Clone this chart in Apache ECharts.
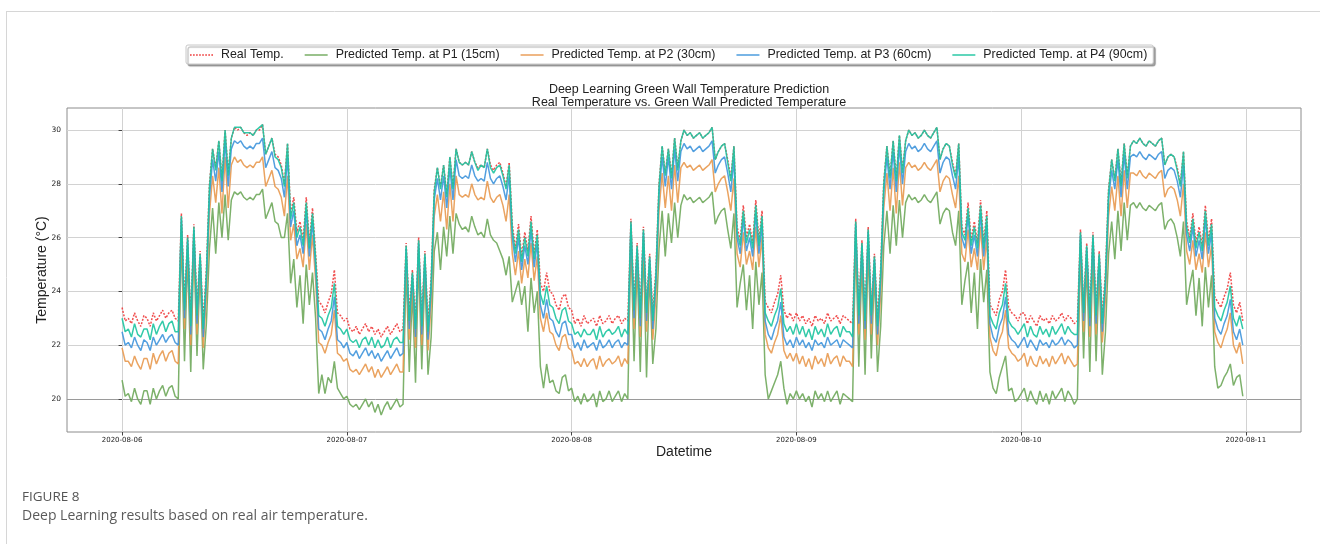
<!DOCTYPE html>
<html>
<head>
<meta charset="utf-8">
<script src="https://cdn.jsdelivr.net/npm/echarts@6.0.0/dist/echarts.min.js"></script>
<style>
html,body{margin:0;padding:0;background:#fff;}
#chart{width:1320px;height:544px;}
</style>
</head>
<body>
<div id="chart"></div>
<script>
// x tick labels (one per day, placed at 0h, 24h, ... 120h)
const tickLabels = ['2020-08-06','2020-08-07','2020-08-08','2020-08-09','2020-08-10','2020-08-11'];
const tickHours = [0, 24, 48, 72, 96, 120];
const yTicks = [20, 22, 24, 26, 28, 30];
const stepHours = 1 / 3; // one reading every 20 minutes from 2020-08-06 00:00
const seriesNames = ['Real Temp.', 'Predicted Temp. at P1 (15cm)', 'Predicted Temp. at P2 (30cm)', 'Predicted Temp. at P3 (60cm)', 'Predicted Temp. at P4 (90cm)'];

const realTemp = [
23.4,22.9,23.0,22.8,23.2,22.9,22.7,23.1,23.0,22.7,23.2,22.9,23.1,23.3,23.0,23.2,23.3,23.0,22.9, 26.9,23.6,26.1,23.0,26.5,23.4,25.5,22.9,24.8, 28.0,29.3,28.6,29.6,28.2,30.0,28.4,29.7,30.1, 30.0,30.1,29.9,29.8,29.9,29.8,30.0,30.0,30.2,29.1,29.4,29.7,29.1,29.0,28.7,28.0,29.5, 26.9,27.5,26.2,26.6,25.9,27.5,25.8,27.1,25.4, 23.6,23.5,23.2,23.6,23.9,24.8,23.2,23.1,22.9,
23.0,22.6,22.5,22.7,22.4,22.6,22.8,22.5,22.7,22.4,22.6,22.3,22.5,22.7,22.4,22.6,22.8,22.5,22.6, 25.8,23.2,24.8,22.9,26.0,23.0,25.5,22.8,24.5, 27.8,28.6,27.9,28.7,27.6,29.0,27.9,29.3,28.8, 28.7,28.8,28.7,29.2,28.8,28.6,28.7,28.6,29.3,28.7,28.5,28.7,28.8,28.4,27.9,28.8,26.5, 25.6,26.5,25.3,26.2,25.5,26.8,25.4,26.3,24.3, 24.0,24.7,24.0,23.9,23.5,23.3,23.8,23.9,23.4,
23.3,22.8,23.0,22.7,23.1,22.8,22.9,23.0,22.7,23.1,22.8,22.9,23.1,22.8,23.0,23.1,22.8,23.0,22.9, 26.7,23.6,25.8,23.3,26.4,23.5,25.4,23.2,24.8, 28.0,29.4,28.4,29.3,28.3,29.7,28.6,29.6,30.0, 29.8,29.9,29.7,29.8,29.9,29.7,29.8,29.9,30.1,28.9,29.2,29.4,29.5,28.9,28.2,29.4,26.4, 25.9,27.2,26.0,26.5,25.8,27.4,25.9,27.0,23.6, 23.4,23.2,23.6,23.9,24.6,23.3,23.0,23.2,22.9,
23.2,22.9,23.1,22.8,23.0,22.7,23.1,22.9,23.0,22.8,23.2,22.9,23.0,23.1,22.8,23.1,23.0,22.9,22.8, 26.7,23.4,25.9,23.2,26.4,23.4,25.4,23.0,24.9, 28.1,29.4,28.3,29.6,28.2,29.8,28.5,29.6,30.0, 29.8,29.9,29.7,29.8,30.0,29.8,29.7,29.9,30.1,28.9,29.3,29.5,29.4,28.8,28.3,29.5,26.4, 26.1,27.3,25.9,26.6,25.8,27.4,25.8,27.0,23.5, 23.3,23.1,23.7,24.0,24.8,23.4,23.2,23.1,22.9,
23.2,23.2,22.8,23.1,22.9,22.7,23.1,22.9,23.0,22.8,23.1,22.9,23.0,23.2,22.9,23.1,23.0,22.8,22.9, 26.3,23.5,25.8,23.3,26.2,23.4,25.5,23.1,24.7, 27.8,28.9,28.2,29.3,28.0,29.5,28.3,29.4,29.6, 29.5,29.7,29.5,29.4,29.6,29.5,29.4,29.6,29.7,28.7,29.0,29.1,29.0,28.6,28.0,29.2,26.6, 26.0,26.9,25.8,26.4,25.7,27.2,25.9,26.7,23.8, 23.6,23.4,23.8,24.1,24.7,23.5,23.2,23.6,22.9
];

const predP1 = [
20.7,20.1,20.2,19.9,20.4,20.0,19.8,20.3,20.3,19.8,20.4,20.0,20.3,20.5,20.1,20.4,20.5,20.1,20.0, 26.2,21.4,25.4,21.0,25.8,21.6,24.8,21.1,22.8, 25.6,27.1,25.4,27.3,26.0,27.6,25.9,27.4,27.7, 27.6,27.7,27.5,27.4,27.5,27.4,27.6,27.6,27.8,26.7,27.0,27.3,26.6,26.5,26.0,26.0,26.9, 24.3,25.2,23.4,24.6,22.8,25.0,23.5,24.7,23.0, 20.2,20.9,20.2,20.8,20.6,21.4,20.4,20.2,20.0,
20.1,19.8,19.7,19.8,19.6,19.8,20.0,19.7,19.9,19.5,19.8,19.4,19.7,19.9,19.6,19.8,20.0,19.7,19.8, 25.0,21.0,24.0,20.6,25.2,21.1,24.7,20.9,22.3, 25.5,26.2,24.8,26.4,25.3,26.8,25.4,26.9,26.5, 26.3,26.4,26.2,26.8,26.4,26.1,26.2,26.0,26.7,26.1,25.9,25.8,25.5,25.2,24.6,25.3,23.6, 24.0,24.4,23.5,24.2,22.5,24.5,23.2,24.0,21.2, 20.4,21.3,20.6,20.7,20.3,20.2,20.8,20.9,20.3,
20.4,19.9,20.1,19.8,20.2,19.9,20.0,20.2,19.7,20.3,19.9,20.0,20.3,19.9,20.1,20.3,19.9,20.2,20.0, 26.0,21.4,25.1,21.0,25.7,20.8,24.7,21.3,22.6, 25.6,27.0,25.3,26.9,25.8,27.3,26.0,27.2,27.6, 27.4,27.5,27.3,27.4,27.5,27.3,27.4,27.5,27.7,26.5,26.8,27.0,27.1,26.3,25.6,26.9,23.4, 24.3,25.0,23.3,24.6,22.6,25.1,23.5,24.7,20.9, 20.0,20.3,20.6,20.9,21.4,20.4,19.8,20.2,20.0,
20.3,20.0,20.2,19.9,20.1,19.7,20.3,20.0,20.2,19.9,20.3,19.9,20.1,20.3,19.8,20.2,20.1,20.0,19.9, 26.0,21.2,25.2,20.9,25.7,21.5,24.7,21.0,22.7, 25.7,27.0,25.4,27.2,25.7,27.4,26.0,27.3,27.6, 27.4,27.5,27.3,27.4,27.6,27.4,27.3,27.5,27.7,26.5,26.9,27.1,27.0,26.2,25.7,27.0,23.5, 24.4,25.1,23.2,24.7,22.6,25.2,23.6,24.8,21.0, 20.4,20.2,20.8,21.2,21.6,20.3,20.4,19.9,20.0,
20.2,20.4,19.9,20.3,20.0,19.8,20.3,19.9,20.2,19.8,20.3,20.0,20.2,20.4,19.9,20.3,20.1,19.8,20.0, 25.6,21.5,25.1,21.0,25.5,21.4,24.8,20.9,22.5, 25.4,26.6,25.2,27.0,25.5,27.3,25.9,27.2,27.3, 27.1,27.3,27.1,27.0,27.2,27.1,27.0,27.2,27.3,26.3,26.6,26.7,26.5,26.0,25.3,26.6,23.5, 24.2,24.8,23.1,24.5,22.7,24.9,23.4,24.6,21.2, 20.4,20.5,20.8,21.0,21.3,20.5,20.8,20.9,20.1
];

const predP2 = [
21.9,21.4,21.4,21.2,21.6,21.3,21.1,21.5,21.5,21.1,21.7,21.3,21.6,21.8,21.4,21.7,21.8,21.4,21.3, 26.5,22.6,25.7,22.0,26.1,22.4,25.1,21.9,23.8, 26.9,28.3,27.3,28.6,26.9,29.0,27.1,28.7,29.0, 28.8,28.9,28.7,28.6,28.7,28.6,28.8,28.8,29.0,27.9,28.2,28.5,27.9,27.8,27.5,26.8,28.3, 25.9,26.5,25.2,25.6,24.9,26.5,24.8,26.1,24.4, 22.1,22.0,21.7,22.1,22.4,23.3,21.7,21.6,21.4,
21.5,21.1,21.0,21.1,20.9,21.1,21.3,21.0,21.2,20.8,21.1,20.8,21.0,21.2,20.9,21.1,21.3,21.0,21.0, 25.4,22.2,24.4,21.9,25.6,22.0,25.1,21.8,23.5, 26.8,27.6,26.6,27.7,26.3,28.0,26.6,28.3,27.6, 27.5,27.6,27.5,28.0,27.6,27.4,27.5,27.4,28.1,27.5,27.3,27.5,27.6,27.2,26.6,27.6,25.4, 24.6,25.5,24.3,25.2,24.5,25.8,24.4,25.3,23.0, 22.5,23.2,22.5,22.4,22.0,21.8,22.3,22.4,21.9,
21.8,21.3,21.4,21.2,21.5,21.2,21.4,21.5,21.1,21.6,21.2,21.4,21.5,21.3,21.4,21.6,21.2,21.5,21.3, 26.3,22.6,25.4,22.3,26.0,22.5,25.0,22.2,23.8, 27.0,28.4,27.1,28.3,27.0,28.7,27.3,28.6,28.8, 28.6,28.7,28.5,28.6,28.7,28.5,28.6,28.7,28.9,27.7,28.0,28.2,28.3,27.7,27.0,28.2,25.4, 24.9,26.2,25.0,25.5,24.8,26.4,24.9,26.0,22.4, 21.9,21.7,22.1,22.4,23.1,21.8,21.5,21.7,21.4,
21.7,21.3,21.6,21.2,21.5,21.1,21.6,21.3,21.5,21.2,21.7,21.3,21.5,21.6,21.2,21.6,21.4,21.4,21.2, 26.3,22.4,25.5,22.2,26.0,22.4,25.0,22.0,23.9, 27.1,28.4,27.0,28.6,26.9,28.8,27.2,28.6,28.8, 28.6,28.7,28.5,28.6,28.8,28.6,28.5,28.7,28.9,27.7,28.1,28.3,28.2,27.6,27.1,28.3,25.4, 25.1,26.3,24.9,25.6,24.8,26.4,24.8,26.0,22.3, 21.8,21.6,22.2,22.5,23.3,21.9,21.7,21.6,21.4,
21.5,21.7,21.2,21.6,21.3,21.2,21.6,21.3,21.5,21.2,21.6,21.3,21.5,21.7,21.3,21.6,21.4,21.2,21.3, 25.9,22.5,25.4,22.3,25.8,22.4,25.1,22.1,23.7, 26.8,27.9,27.0,28.3,26.8,28.5,27.1,28.4,28.4, 28.3,28.5,28.3,28.2,28.4,28.3,28.2,28.4,28.5,27.5,27.8,27.9,27.8,27.4,26.8,28.0,25.5, 25.0,25.9,24.8,25.4,24.7,26.2,24.9,25.7,22.5, 22.1,21.9,22.3,22.6,23.2,22.0,21.7,22.1,21.3
];

const predP3 = [
22.5,22.0,22.1,21.9,22.3,22.0,21.8,22.2,22.1,21.8,22.3,22.0,22.2,22.4,22.1,22.3,22.4,22.1,22.0, 26.7,23.0,25.9,22.4,26.3,22.8,25.3,22.3,24.3, 27.5,28.9,28.1,29.2,27.7,29.6,27.9,29.3,29.6, 29.5,29.6,29.4,29.3,29.4,29.3,29.5,29.5,29.7,28.6,28.9,29.2,28.6,28.5,28.2,27.5,29.0, 26.4,27.0,25.7,26.1,25.4,27.0,25.3,26.6,24.9, 22.6,22.5,22.2,22.6,22.9,23.8,22.2,22.1,21.9,
22.1,21.7,21.6,21.8,21.5,21.7,21.9,21.6,21.8,21.5,21.7,21.4,21.6,21.8,21.5,21.7,21.9,21.6,21.7, 25.6,22.6,24.6,22.3,25.8,22.4,25.3,22.2,24.0, 27.4,28.2,27.4,28.3,27.1,28.6,27.4,28.9,28.3, 28.2,28.3,28.2,28.7,28.3,28.1,28.2,28.1,28.8,28.2,28.0,28.2,28.3,27.9,27.4,28.3,26.0, 25.1,26.0,24.8,25.7,25.0,26.3,24.9,25.8,23.5, 23.0,23.7,23.0,22.9,22.5,22.3,22.8,22.9,22.4,
22.4,21.9,22.1,21.8,22.2,21.9,22.0,22.1,21.8,22.2,21.9,22.0,22.2,21.9,22.1,22.2,21.9,22.1,22.0, 26.5,23.0,25.6,22.7,26.2,22.9,25.2,22.6,24.3, 27.6,29.0,27.9,29.0,27.8,29.3,28.1,29.2,29.5, 29.3,29.4,29.2,29.3,29.4,29.2,29.3,29.4,29.6,28.4,28.7,28.9,29.0,28.4,27.7,28.9,26.0, 25.4,26.7,25.5,26.0,25.3,26.9,25.4,26.5,22.9, 22.4,22.2,22.6,22.9,23.6,22.3,22.0,22.2,21.9,
22.3,22.0,22.2,21.9,22.1,21.8,22.2,22.0,22.1,21.9,22.3,22.0,22.1,22.2,21.9,22.2,22.1,22.0,21.9, 26.5,22.8,25.7,22.6,26.2,22.8,25.2,22.4,24.4, 27.7,29.0,27.8,29.2,27.7,29.4,28.0,29.2,29.5, 29.3,29.4,29.2,29.3,29.5,29.3,29.2,29.4,29.6,28.4,28.8,29.0,28.9,28.3,27.8,29.0,26.0, 25.6,26.8,25.4,26.1,25.3,26.9,25.3,26.5,22.8, 22.3,22.1,22.7,23.0,23.8,22.4,22.2,22.1,21.9,
22.1,22.3,21.9,22.2,22.0,21.8,22.2,22.0,22.1,21.9,22.2,22.0,22.1,22.3,22.0,22.2,22.1,21.9,22.0, 26.1,22.9,25.6,22.7,26.0,22.8,25.3,22.5,24.2, 27.4,28.5,27.8,28.9,27.5,29.1,27.8,29.0,29.1, 29.0,29.2,29.0,28.9,29.1,29.0,28.9,29.1,29.2,28.2,28.5,28.6,28.5,28.1,27.5,28.7,26.1, 25.5,26.4,25.3,25.9,25.2,26.7,25.4,26.2,23.0, 22.6,22.4,22.8,23.1,23.7,22.5,22.2,22.6,22.0
];

const predP4 = [
23.0,22.5,22.6,22.3,22.8,22.4,22.3,22.6,22.6,22.2,22.8,22.4,22.7,22.9,22.5,22.8,22.9,22.5,22.5, 26.8,23.3,26.0,22.7,26.4,23.1,25.4,22.6,24.6, 27.9,29.3,28.5,29.6,28.1,30.0,28.3,29.7,30.1, 30.1,30.1,29.9,29.9,29.9,29.8,30.0,30.1,30.2,29.1,29.4,29.7,29.0,28.9,28.6,27.9,29.5, 26.7,27.3,26.0,26.4,25.7,27.3,25.6,26.9,25.2, 23.1,23.0,22.7,23.1,23.4,24.3,22.7,22.6,22.4,
22.6,22.2,22.1,22.2,21.9,22.2,22.3,22.0,22.3,21.9,22.2,21.9,22.0,22.3,21.9,22.2,22.3,22.1,22.1, 25.7,22.9,24.7,22.6,25.9,22.7,25.4,22.5,24.3, 27.7,28.6,27.8,28.7,27.5,29.0,27.8,29.3,28.8, 28.7,28.8,28.7,29.2,28.8,28.5,28.7,28.6,29.3,28.6,28.4,28.6,28.7,28.3,27.8,28.7,26.3, 25.4,26.3,25.1,26.0,25.3,26.6,25.2,26.1,23.9, 23.5,24.2,23.5,23.4,23.0,22.8,23.3,23.4,22.9,
22.8,22.4,22.5,22.3,22.6,22.4,22.4,22.6,22.2,22.7,22.3,22.5,22.6,22.4,22.5,22.7,22.3,22.6,22.4, 26.6,23.3,25.7,23.0,26.3,23.2,25.3,22.9,24.6, 27.9,29.4,28.3,29.3,28.2,29.7,28.5,29.6,30.0, 29.8,29.9,29.7,29.8,29.9,29.7,29.8,29.9,30.1,28.9,29.2,29.4,29.5,28.8,28.1,29.4,26.2, 25.7,27.0,25.8,26.3,25.6,27.2,25.7,26.8,23.2, 22.9,22.7,23.1,23.4,24.1,22.8,22.5,22.7,22.4,
22.8,22.4,22.7,22.3,22.6,22.2,22.7,22.4,22.6,22.3,22.8,22.4,22.6,22.7,22.3,22.7,22.5,22.5,22.3, 26.6,23.1,25.8,22.9,26.3,23.1,25.3,22.7,24.7, 28.0,29.4,28.2,29.6,28.1,29.8,28.4,29.6,30.0, 29.8,29.9,29.7,29.8,30.0,29.8,29.7,29.9,30.1,28.9,29.3,29.5,29.4,28.7,28.2,29.5,26.2, 25.9,27.1,25.7,26.4,25.6,27.2,25.6,26.8,23.1, 22.8,22.6,23.2,23.5,24.3,22.9,22.7,22.6,22.4,
22.6,22.8,22.3,22.7,22.4,22.3,22.7,22.4,22.6,22.3,22.7,22.4,22.6,22.8,22.4,22.7,22.5,22.4,22.4, 26.2,23.2,25.7,23.0,26.1,23.1,25.4,22.8,24.5, 27.7,28.9,28.1,29.3,27.9,29.5,28.2,29.4,29.6, 29.5,29.7,29.5,29.4,29.6,29.5,29.4,29.6,29.7,28.7,29.0,29.1,29.0,28.5,27.9,29.2,26.4, 25.8,26.7,25.6,26.2,25.5,27.0,25.7,26.5,23.4, 23.1,22.9,23.3,23.6,24.2,23.0,22.7,23.1,22.6
];

const seriesValues = [realTemp, predP1, predP2, predP3, predP4];
const seriesColors = ['#ee3b3b', '#6fa85b', '#e8994f', '#3f95db', '#1cc4a0'];

function toPoints(arr) {
  return arr.map((v, i) => [i * stepHours, v]);
}

// legend icons: thin solid bar, or a dotted bar for the real temperature
const solidIcon = 'path://M0,0H23V1.4H0Z';
let dotted = '';
for (let x = 0; x < 23; x += 3) { dotted += 'M' + x + ',0h1.6v1.4h-1.6Z'; }
const dottedIcon = 'path://' + dotted;

const chart = echarts.init(document.getElementById('chart'), null, { renderer: 'canvas' });

const series = seriesNames.map((name, k) => ({
  name: name,
  type: 'line',
  data: toPoints(seriesValues[k]),
  symbol: 'none',
  showSymbol: false,
  smooth: false,
  z: 2 + k,
  lineStyle: {
    color: seriesColors[k],
    width: 1.5,
    type: k === 0 ? [2, 1.5] : 'solid',
    opacity: 0.9
  },
  itemStyle: { color: seriesColors[k] },
  emphasis: { disabled: true }
}));

const option = {
  animation: false,
  backgroundColor: '#ffffff',
  title: {
    text: 'Deep Learning Green Wall Temperature Prediction\nReal Temperature vs. Green Wall Predicted Temperature',
    left: 684,
    top: 78,
    textAlign: 'center',
    textStyle: {
      fontFamily: '"Liberation Sans", Arial, sans-serif',
      fontSize: 12.5,
      fontWeight: 'normal',
      color: '#222',
      lineHeight: 13
    }
  },
  legend: {
    data: seriesNames.map((n, k) => ({ name: n, icon: k === 0 ? dottedIcon : solidIcon })),
    left: 186,
    top: 45,
    orient: 'horizontal',
    itemWidth: 23,
    itemHeight: 10,
    itemGap: 21,
    padding: [4, 6, 3, 4],
    borderColor: '#c8c8c8',
    borderWidth: 1,
    borderRadius: 2,
    backgroundColor: '#ffffff',
    shadowColor: 'rgba(0,0,0,0.35)',
    shadowBlur: 1,
    shadowOffsetX: 2,
    shadowOffsetY: 2,
    textStyle: {
      fontFamily: '"Liberation Sans", Arial, sans-serif',
      fontSize: 12.4,
      color: '#222',
      padding: [0, 0, 0, 3]
    }
  },
  grid: {
    left: 67,
    right: 19,
    top: 108,
    bottom: 112,
    show: true,
    borderColor: '#8c8c8c',
    borderWidth: 1,
    backgroundColor: 'transparent'
  },
  xAxis: {
    type: 'value',
    min: -5.88,
    max: 125.88,
    name: 'Datetime',
    nameLocation: 'middle',
    nameGap: 13,
    nameMoveOverlap: false,
    nameTextStyle: {
      fontFamily: '"Liberation Sans", Arial, sans-serif',
      fontSize: 14,
      color: '#222',
      verticalAlign: 'top'
    },
    axisLine: { show: false },
    axisTick: {
      show: true,
      length: 3.5,
      inside: false,
      customValues: tickHours,
      lineStyle: { color: '#444', width: 1 }
    },
    axisLabel: {
      show: true,
      customValues: tickHours,
      margin: 5,
      fontFamily: '"DejaVu Sans", sans-serif',
      fontSize: 7,
      color: '#222',
      formatter: function (v) {
        const idx = tickHours.indexOf(Math.round(v));
        return idx >= 0 ? tickLabels[idx] : '';
      }
    },
    splitLine: {
      show: true,
      lineStyle: { color: '#d2d2d2', width: 1 }
    }
  },
  yAxis: {
    type: 'value',
    min: 18.77,
    max: 30.82,
    name: 'Temperature (°C)',
    nameLocation: 'middle',
    nameGap: 18,
    nameRotate: 90,
    nameMoveOverlap: false,
    nameTextStyle: {
      fontFamily: '"Liberation Sans", Arial, sans-serif',
      fontSize: 14,
      color: '#222'
    },
    axisLine: { show: false },
    axisTick: {
      show: true,
      length: 3.5,
      inside: false,
      customValues: yTicks,
      lineStyle: { color: '#444', width: 1 }
    },
    axisLabel: {
      show: true,
      customValues: yTicks,
      margin: 6,
      fontFamily: '"DejaVu Sans", sans-serif',
      fontSize: 7.5,
      color: '#222',
      formatter: function (v) { return String(Math.round(v)); }
    },
    splitLine: {
      show: true,
      lineStyle: { color: ['#9a9a9a', '#d2d2d2', '#d2d2d2', '#d2d2d2', '#d2d2d2', '#d2d2d2'], width: 1 }
    }
  },
  graphic: [
    { type: 'line', silent: true, shape: { x1: 6, y1: 11.5, x2: 1320, y2: 11.5 }, style: { stroke: '#d6d6d6', lineWidth: 1 } },
    { type: 'line', silent: true, shape: { x1: 6.5, y1: 11, x2: 6.5, y2: 544 }, style: { stroke: '#d6d6d6', lineWidth: 1 } },
    { type: 'text', silent: true, left: 22, top: 490, style: { text: 'FIGURE 8', font: '500 13.5px "Open Sans", "Noto Sans", sans-serif', fill: '#555' } },
    { type: 'text', silent: true, left: 22, top: 509, style: { text: 'Deep Learning results based on real air temperature.', font: '14px "Open Sans", "Noto Sans", sans-serif', fill: '#5a5a5a' } }
  ],
  series: series
};

chart.setOption(option);
</script>
</body>
</html>
